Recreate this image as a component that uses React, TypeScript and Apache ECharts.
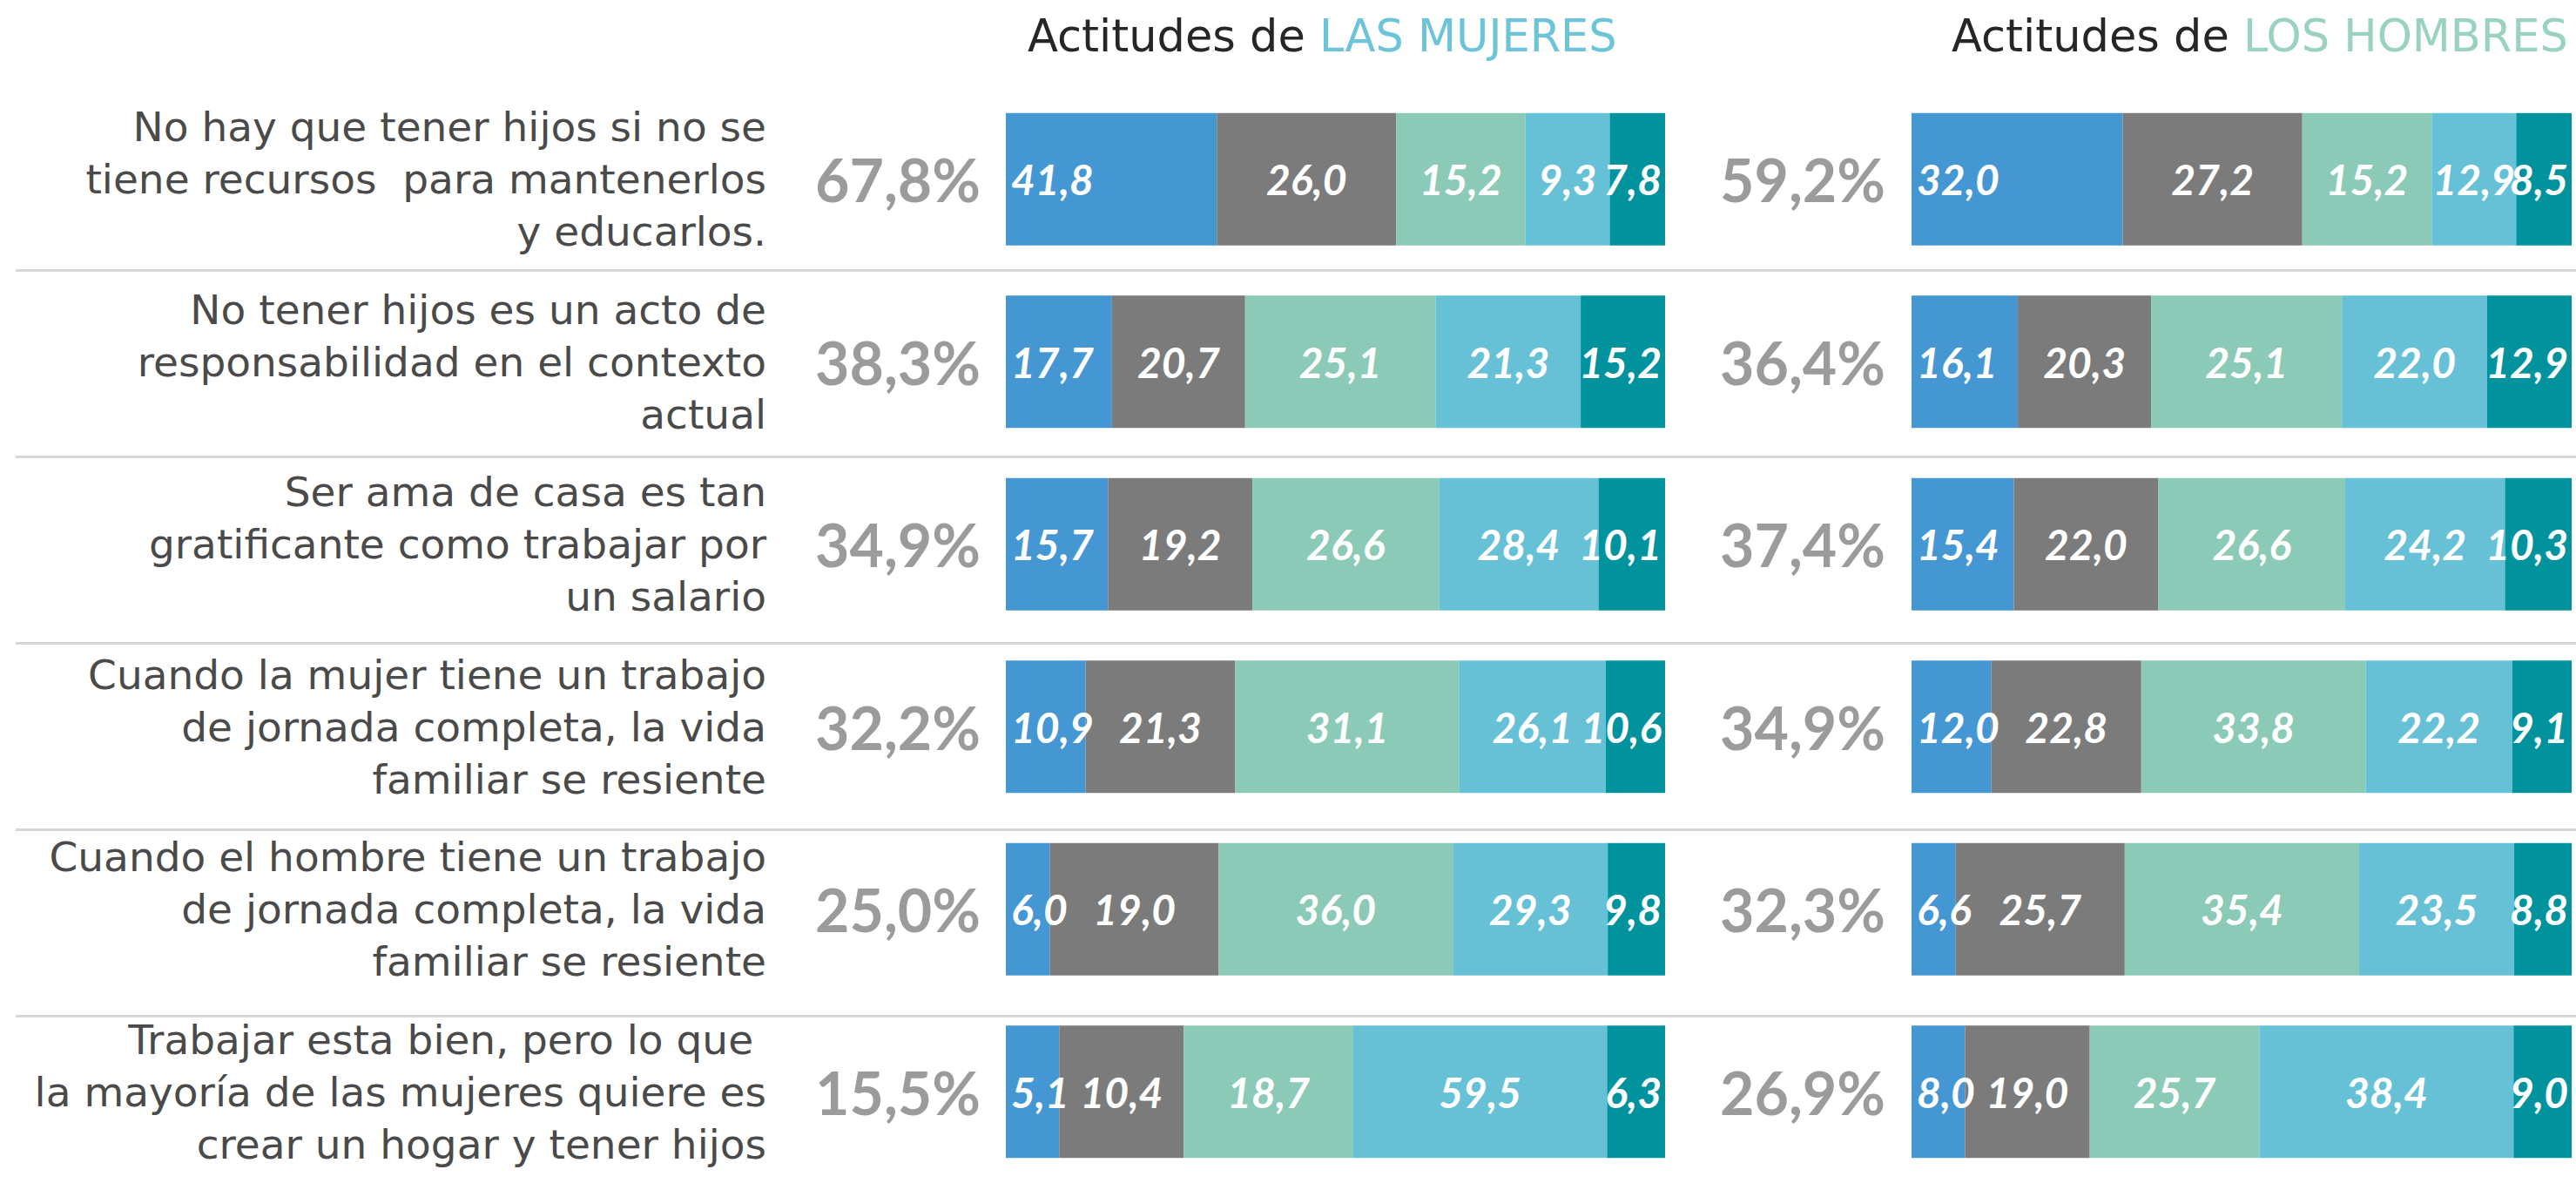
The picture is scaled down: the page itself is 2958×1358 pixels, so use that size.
import React, { useEffect, useRef } from "react";
import * as echarts from "echarts";

// Statements (rows, top to bottom)
const statements = [
  "No hay que tener hijos si no se\ntiene recursos  para mantenerlos\ny educarlos.",
  "No tener hijos es un acto de\nresponsabilidad en el contexto\nactual",
  "Ser ama de casa es tan\ngratificante como trabajar por\nun salario",
  "Cuando la mujer tiene un trabajo\nde jornada completa, la vida\nfamiliar se resiente",
  "Cuando el hombre tiene un trabajo\nde jornada completa, la vida\nfamiliar se resiente",
  "Trabajar esta bien, pero lo que \nla mayoría de las mujeres quiere es\ncrear un hogar y tener hijos",
];

// Headline percentages
const mujeresPct = ["67,8%", "38,3%", "34,9%", "32,2%", "25,0%", "15,5%"];
const hombresPct = ["59,2%", "36,4%", "37,4%", "34,9%", "32,3%", "26,9%"];

// Printed segment values — LAS MUJERES
const mujeresSeg1 = [41.8, 17.7, 15.7, 10.9, 6.0, 5.1];
const mujeresSeg2 = [26.0, 20.7, 19.2, 21.3, 19.0, 10.4];
const mujeresSeg3 = [15.2, 25.1, 26.6, 31.1, 36.0, 18.7];
const mujeresSeg4 = [9.3, 21.3, 28.4, 26.1, 29.3, 59.5];
const mujeresSeg5 = [7.8, 15.2, 10.1, 10.6, 9.8, 6.3];

// Printed segment values — LOS HOMBRES
const hombresSeg1 = [32.0, 16.1, 15.4, 12.0, 6.6, 8.0];
const hombresSeg2 = [27.2, 20.3, 22.0, 22.8, 25.7, 19.0];
const hombresSeg3 = [15.2, 25.1, 26.6, 33.8, 35.4, 25.7];
const hombresSeg4 = [12.9, 22.0, 24.2, 22.2, 23.5, 38.4];
const hombresSeg5 = [8.5, 12.9, 10.3, 9.1, 8.8, 9.0];

// Segment lengths as drawn in the picture (both panels share the same drawn lengths)
const drawnSeg1 = [32.0, 16.1, 15.5, 12.1, 6.7, 8.1];
const drawnSeg2 = [27.2, 20.2, 21.9, 22.7, 25.6, 18.9];
const drawnSeg3 = [19.6, 28.9, 28.3, 34.0, 35.5, 25.7];
const drawnSeg4 = [12.8, 22.0, 24.2, 22.2, 23.5, 38.5];
const drawnSeg5 = [8.4, 12.8, 10.1, 9.0, 8.7, 8.8];

const segColors = ["#4597D4", "#7B7B7B", "#8CCAB8", "#67C1D6", "#00939E"];
const separatorTicks = [0, 1, 2, 3, 4];

const fmt = (v: number) => v.toFixed(1).replace(".", ",");

export default function App() {
  const ref = useRef<HTMLDivElement>(null);

  useEffect(() => {
    if (!ref.current) return;
    const chart = echarts.init(ref.current, null, { renderer: "svg" });
    const drawn = [drawnSeg1, drawnSeg2, drawnSeg3, drawnSeg4, drawnSeg5];
    const mujeres = [mujeresSeg1, mujeresSeg2, mujeresSeg3, mujeresSeg4, mujeresSeg5];
    const hombres = [hombresSeg1, hombresSeg2, hombresSeg3, hombresSeg4, hombresSeg5];
    const labelFont = "Lato";
    const textFont = "DejaVu Sans";

    const labelPos = (i: number) =>
      i === 0
        ? { position: "insideLeft", distance: 6 }
        : i === drawn.length - 1
        ? { position: "insideRight", distance: 4 }
        : { position: "inside" };

    const mkSeries = (gridIdx: number, yIdx: number, labels: number[][], stack: string) =>
      drawn.map((d, i) => ({
        type: "bar",
        xAxisIndex: gridIdx,
        yAxisIndex: yIdx,
        stack,
        barWidth: 152,
        data: d,
        itemStyle: { color: segColors[i] },
        label: {
          show: true,
          ...labelPos(i),
          color: "#ffffff",
          fontFamily: labelFont,
          fontWeight: "bold",
          fontStyle: "italic",
          fontSize: 48,
          formatter: (p: any) => fmt(labels[i][p.dataIndex]),
        },
        silent: true,
      }));

    const cat = (gridIndex: number, data: string[], extra: any = {}) => ({
      type: "category",
      gridIndex,
      data,
      inverse: true,
      position: "left",
      offset: 0,
      axisLine: { show: false },
      axisTick: { show: false },
      splitLine: { show: false },
      ...extra,
    });

    const pctLabel = {
      fontSize: 68,
      fontWeight: "bold",
      color: "#9b9b9b",
      fontFamily: labelFont,
      align: "right",
    };

    const titleRich = (accent: string) => ({
      a: { fontSize: 51, color: "#262626", fontFamily: textFont, fontWeight: "normal" },
      b: { fontSize: 51, color: accent, fontFamily: textFont, fontWeight: "normal" },
    });

    const option: any = {
      animation: false,
      backgroundColor: "#ffffff",
      title: [
        {
          left: 1175,
          top: 11,
          text: "{a|Actitudes de }{b|LAS MUJERES}",
          textStyle: { rich: titleRich("#6CC4D9") },
        },
        {
          left: 2236,
          top: 11,
          text: "{a|Actitudes de }{b|LOS HOMBRES}",
          textStyle: { rich: titleRich("#9AD2C2") },
        },
      ],
      grid: [
        { left: 1155, width: 757, top: 101, height: 1280 },
        { left: 2195, width: 758, top: 101, height: 1280 },
        { left: 18, right: 0, top: 310, height: 856 },
      ],
      xAxis: [
        { type: "value", gridIndex: 0, min: 0, max: 100, show: false },
        { type: "value", gridIndex: 1, min: 0, max: 100, show: false },
        { type: "value", gridIndex: 2, min: 0, max: 1, show: false },
      ],
      yAxis: [
        cat(0, statements, {
          axisLabel: {
            margin: 275,
            align: "right",
            fontSize: 47,
            lineHeight: 60,
            color: "#4a4a4a",
            fontFamily: textFont,
          },
        }),
        cat(0, mujeresPct, { axisLabel: { ...pctLabel, margin: 29 } }),
        cat(1, hombresPct, { axisLabel: { ...pctLabel, margin: 30 } }),
        {
          type: "value",
          gridIndex: 2,
          min: separatorTicks[0],
          max: separatorTicks[separatorTicks.length - 1],
          interval: 1,
          axisLine: { show: false },
          axisTick: { show: false },
          axisLabel: { show: false },
          splitLine: { show: true, lineStyle: { color: "#d6d6d6", width: 3 } },
        },
      ],
      series: [
        ...mkSeries(0, 0, mujeres, "mujeres"),
        ...mkSeries(1, 2, hombres, "hombres"),
      ],
    };

    chart.setOption(option);
    return () => chart.dispose();
  }, []);

  return (
    <div
      ref={ref}
      style={{ position: "absolute", left: 0, top: 0, width: 2958, height: 1358 }}
    />
  );
}
